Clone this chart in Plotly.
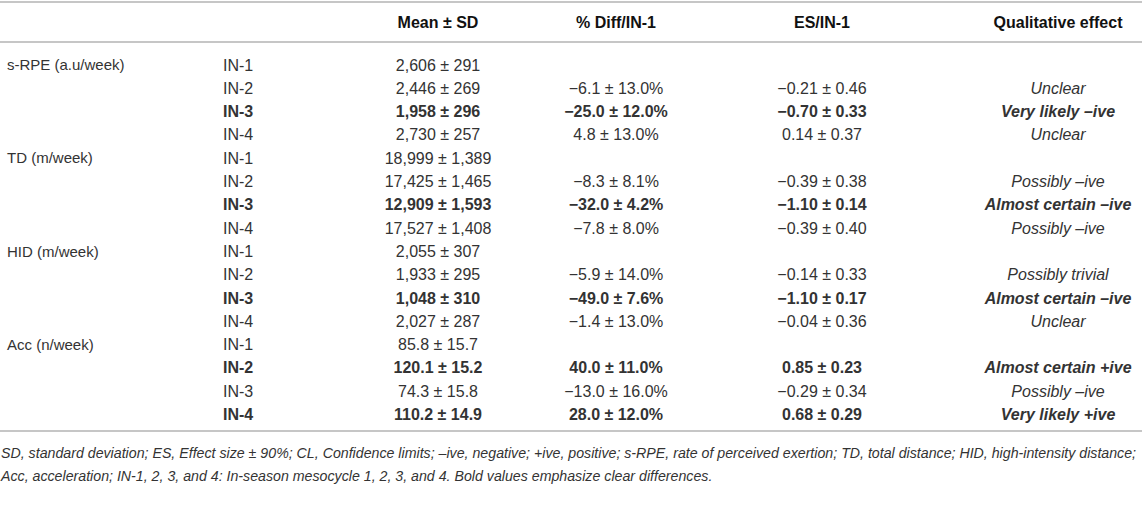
import plotly.graph_objects as go

# ---- data ----
variables = ["s-RPE (a.u/week)", "TD (m/week)", "HID (m/week)", "Acc (n/week)"]
mesocycles = ["IN-1", "IN-2", "IN-3", "IN-4"]
mean_sd = [
    "2,606 ± 291", "2,446 ± 269", "1,958 ± 296", "2,730 ± 257",
    "18,999 ± 1,389", "17,425 ± 1,465", "12,909 ± 1,593", "17,527 ± 1,408",
    "2,055 ± 307", "1,933 ± 295", "1,048 ± 310", "2,027 ± 287",
    "85.8 ± 15.7", "120.1 ± 15.2", "74.3 ± 15.8", "110.2 ± 14.9",
]
pct_diff = [
    "", "−6.1 ± 13.0%", "−25.0 ± 12.0%", "4.8 ± 13.0%",
    "", "−8.3 ± 8.1%", "−32.0 ± 4.2%", "−7.8 ± 8.0%",
    "", "−5.9 ± 14.0%", "−49.0 ± 7.6%", "−1.4 ± 13.0%",
    "", "40.0 ± 11.0%", "−13.0 ± 16.0%", "28.0 ± 12.0%",
]
es = [
    "", "−0.21 ± 0.46", "−0.70 ± 0.33", "0.14 ± 0.37",
    "", "−0.39 ± 0.38", "−1.10 ± 0.14", "−0.39 ± 0.40",
    "", "−0.14 ± 0.33", "−1.10 ± 0.17", "−0.04 ± 0.36",
    "", "0.85 ± 0.23", "−0.29 ± 0.34", "0.68 ± 0.29",
]
qualitative = [
    "", "Unclear", "Very likely –ive", "Unclear",
    "", "Possibly –ive", "Almost certain –ive", "Possibly –ive",
    "", "Possibly trivial", "Almost certain –ive", "Unclear",
    "", "Almost certain +ive", "Possibly –ive", "Very likely +ive",
]
bold_rows = [2, 6, 10, 13, 15]
headers = ["", "", "Mean ± SD", "% Diff/IN-1", "ES/IN-1", "Qualitative effect"]
notes = [
    "SD, standard deviation; ES, Effect size ± 90%; CL, Confidence limits; –ive, negative; +ive, positive; s-RPE, rate of perceived exertion; TD, total distance; HID, high-intensity distance;",
    "Acc, acceleration; IN-1, 2, 3, and 4: In-season mesocycle 1, 2, 3, and 4. Bold values emphasize clear differences.",
]

# ---- build ----
W, H = 1142, 511
FONT = "Liberation Sans"
TXT = "#333333"
ROW0, ROWH = 66.5, 23.3  # pixel center of first row, row spacing


def py(p):
    """pixel y -> row units"""
    return (p - ROW0) / ROWH


n = len(mean_sd)
rows = list(range(n))
col1 = [variables[i // 4] if i % 4 == 0 else "" for i in rows]
col2 = [mesocycles[i % 4] for i in rows]


def fmt(vals, italic=False):
    out = []
    for i, v in enumerate(vals):
        s = v
        if italic and s:
            s = f"<i>{s}</i>"
        if i in bold_rows and s:
            s = f"<b>{s}</b>"
        out.append(s)
    return out


col_x = [7, 223, 438, 616, 822, 1058]
col_size = [15, 16, 16, 16, 16, 16]
col_pos = ["middle right", "middle right", "middle center", "middle center", "middle center", "middle center"]
col_text = [col1, fmt(col2), fmt(mean_sd), fmt(pct_diff), fmt(es), fmt(qualitative, italic=True)]

fig = go.Figure()
for x, sz, pos, txt in zip(col_x, col_size, col_pos, col_text):
    fig.add_trace(go.Scatter(
        x=[x] * n, y=rows, mode="text", text=txt, textposition=pos,
        textfont=dict(family=FONT, size=sz, color=TXT),
        hoverinfo="skip", showlegend=False, cliponaxis=False,
    ))

# header
fig.add_trace(go.Scatter(
    x=col_x[2:], y=[py(24)] * 4, mode="text",
    text=[f"<b>{h}</b>" for h in headers[2:]], textposition="middle center",
    textfont=dict(family=FONT, size=16, color="#111111"),
    hoverinfo="skip", showlegend=False, cliponaxis=False,
))

# notes
fig.add_trace(go.Scatter(
    x=[1, 1], y=[py(454), py(477)], mode="text",
    text=[f"<i>{t}</i>" for t in notes], textposition="middle right",
    textfont=dict(family=FONT, size=14.2, color=TXT),
    hoverinfo="skip", showlegend=False, cliponaxis=False,
))

for p in (2, 42, 431):
    fig.add_shape(type="line", xref="x", yref="y", x0=0, x1=W, y0=py(p), y1=py(p),
                  line=dict(color="#c6c6c6", width=2))

fig.update_layout(
    width=W, height=H, margin=dict(l=0, r=0, t=0, b=0),
    paper_bgcolor="white", plot_bgcolor="white",
    xaxis=dict(range=[0, W], visible=False, fixedrange=True),
    yaxis=dict(range=[py(H), py(0)], visible=False, fixedrange=True),
)

fig.write_html("out.html", config={"displayModeBar": False},
               post_script="document.body.style.margin='0';")
